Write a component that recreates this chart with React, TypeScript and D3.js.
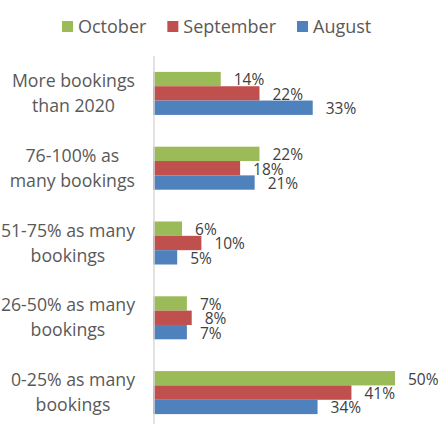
import * as d3 from "d3";
import { useEffect, useRef } from "react";

const width = 440;
const height = 424;

const categories = [
  "More bookings than 2020",
  "76-100% as many bookings",
  "51-75% as many bookings",
  "26-50% as many bookings",
  "0-25% as many bookings",
];
const categoryLines = [
  ["More bookings", "than 2020"],
  ["76-100% as", "many bookings"],
  ["51-75% as many", "bookings"],
  ["26-50% as many", "bookings"],
  ["0-25% as many", "bookings"],
];
const seriesNames = ["October", "September", "August"];
const octoberValues = [14, 22, 6, 7, 50];
const septemberValues = [22, 18, 10, 8, 41];
const augustValues = [33, 21, 5, 7, 34];
const seriesColors = ["#9BBB59", "#C0504D", "#4F81BD"];

const fontFamily = "'Open Sans', sans-serif";

export default function App() {
  const svgRef = useRef<SVGSVGElement>(null);

  useEffect(() => {
    document.body.style.margin = "0";
    if (!svgRef.current) return;
    drawChart(svgRef.current);
  }, []);

  return <svg ref={svgRef} width={width} height={height} style={{ display: "block" }} />;
}

function drawChart(svgElement: SVGSVGElement) {
  const svg = d3.select(svgElement);
  svg.selectAll("*").remove();

  const values = [octoberValues, septemberValues, augustValues];
  const rows = categories.map((category, i) => ({
    category,
    lines: categoryLines[i],
    bars: seriesNames.map((name, s) => ({ name, value: values[s][i], color: seriesColors[s] })),
  }));

  const xScale = d3.scaleLinear().domain([0, 50]).range([153, 395]);
  const yScale = d3
    .scaleBand()
    .domain(categories)
    .range([56, 430])
    .paddingInner(0.425)
    .paddingOuter(0.2125);
  const innerScale = d3.scaleBand().domain(seriesNames).range([0, yScale.bandwidth()]);

  const groups = svg
    .append("g")
    .selectAll("g")
    .data(rows)
    .join("g")
    .attr("transform", (d) => `translate(0, ${yScale(d.category)})`);

  groups
    .selectAll("rect")
    .data((d) => d.bars)
    .join("rect")
    .attr("x", xScale(0))
    .attr("y", (d) => innerScale(d.name)!)
    .attr("width", (d) => xScale(d.value) - xScale(0))
    .attr("height", innerScale.bandwidth())
    .attr("fill", (d) => d.color);

  groups
    .selectAll("text.value")
    .data((d) => d.bars)
    .join("text")
    .attr("class", "value")
    .attr("x", (d) => xScale(d.value) + 13)
    .attr("y", (d) => innerScale(d.name)! + innerScale.bandwidth() / 2 + 1)
    .attr("dy", "0.35em")
    .attr("fill", "#404040")
    .style("font-family", fontFamily)
    .style("font-size", "15.5px")
    .text((d) => `${d.value}%`);

  // category labels: lines centred within a block right-aligned at x=135
  groups.each(function (d) {
    const g = d3.select(this);
    const center = yScale.bandwidth() / 2;
    const texts = d.lines.map((line, li) =>
      g
        .append("text")
        .attr("y", center + (li - (d.lines.length - 1) / 2) * 25)
        .attr("dy", "0.35em")
        .attr("text-anchor", "middle")
        .attr("fill", "#595959")
        .style("font-family", fontFamily)
        .style("font-size", "17.7px")
        .text(line)
    );
    const maxWidth = d3.max(texts, (t) => (t.node() as SVGTextElement).getComputedTextLength()) || 0;
    texts.forEach((t) => t.attr("x", 135 - maxWidth / 2));
  });

  svg
    .append("line")
    .attr("x1", xScale(0) + 1)
    .attr("x2", xScale(0) + 1)
    .attr("y1", 56)
    .attr("y2", height)
    .attr("stroke", "#D9D9D9")
    .attr("stroke-width", 1.5);

  // legend
  const legend = svg.append("g").attr("transform", "translate(0, 26.5)");
  let cursor = 62;
  seriesNames.forEach((name, i) => {
    legend
      .append("rect")
      .attr("x", cursor)
      .attr("y", -5.5)
      .attr("width", 11)
      .attr("height", 11)
      .attr("fill", seriesColors[i]);
    const label = legend
      .append("text")
      .attr("x", cursor + 16)
      .attr("dy", "0.35em")
      .attr("fill", "#595959")
      .style("font-family", fontFamily)
      .style("font-size", "18px")
      .text(name);
    cursor += 16 + (label.node() as SVGTextElement).getComputedTextLength() + 21;
  });
}
